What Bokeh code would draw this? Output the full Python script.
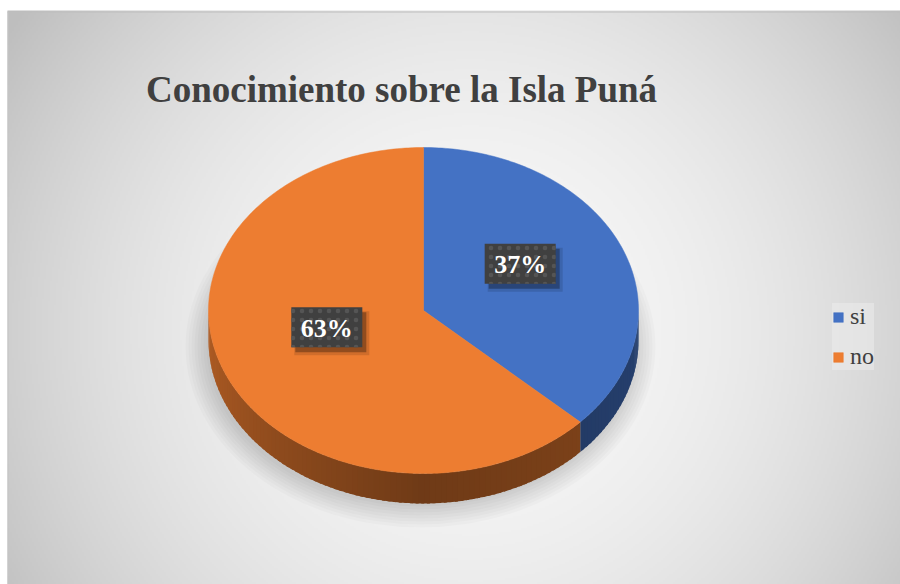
import numpy as np
from bokeh.plotting import figure
from bokeh.models import Range1d, Label, Legend, LegendItem
from bokeh.core.properties import value
from bokeh.embed import file_html
from bokeh.resources import INLINE

# ---- data ----
categories = ["si", "no"]
values = [37, 63]
colors = ["#4472C4", "#ED7D31"]
title_text = "Conocimiento sobre la Isla Puná"

# ---- layout (page pixel helpers) ----
W, H = 900, 584
OX, OY = 0, 0


def X(px):
    return px - OX


def Y(py):
    return (OY + H) - py


p = figure(width=W, height=H, x_range=Range1d(0, W), y_range=Range1d(0, H),
           output_backend="svg", toolbar_location=None,
           x_axis_type=None, y_axis_type=None, min_border=0)
p.grid.visible = False
p.outline_line_color = None
p.background_fill_color = "white"
p.border_fill_color = "white"

# ---- radial gradient background panel ----
top, left = 11, 7
gh = (OY + H) - top
gw = W - left
step = 2
nx, ny = gw // step + 1, gh // step + 1
jj = np.arange(nx)
ii = np.arange(ny)
px = left + (jj + 0.5) * step
py = (OY + H) - (ii + 0.5) * step
PX, PY = np.meshgrid(px, py)
d2 = (PX - 470.0) ** 2 + (PY - 330.0) ** 2
v = np.clip(248 - 1.9e-4 * d2, 190, 250).astype(np.uint8)
img = np.empty((ny, nx), dtype=np.uint32)
view = img.view(dtype=np.uint8).reshape((ny, nx, 4))
view[..., 0] = v
view[..., 1] = v
view[..., 2] = v
view[..., 3] = 255
p.image_rgba(image=[img], x=X(left), y=0, dw=nx * step, dh=ny * step)
p.segment(x0=[X(left), X(left + 0.5)], y0=[Y(top + 0.5), Y(top)],
          x1=[X(W), X(left + 0.5)], y1=[Y(top + 0.5), Y(H)],
          line_color=["#bdbdbd", "#c4c4c4"], line_width=1)

# ---- pie geometry ----
cx, cy = 423.0, 310.0
rx, ry = 215.0, 163.0
depth = 30.0


def pt(theta, dy=0.0):
    t = np.radians(theta)
    return X(cx + rx * np.sin(t)), Y(cy - ry * np.cos(t) + dy)


def hex_to_rgb(h):
    h = h.lstrip("#")
    return [int(h[i:i + 2], 16) for i in (0, 2, 4)]


def shade(h, f):
    r, g, b = hex_to_rgb(h)
    return "#%02x%02x%02x" % (int(r * f), int(g * f), int(b * f))


total = float(sum(values))
fracs = [vv / total for vv in values]
starts = np.concatenate([[0.0], np.cumsum(fracs)[:-1]]) * 360.0
ends = np.cumsum(fracs) * 360.0

# soft shadow under the pie (mostly below / left)
for k in range(8):
    p.ellipse(x=X(cx - 3), y=Y(cy + depth + 6),
              width=2 * rx + 40 - k * 6, height=2 * ry + 36 - k * 6,
              fill_color="black", fill_alpha=0.02, line_color=None)

# side strips (front half only)
sx, sy, sc = [], [], []
for s, e, c in zip(starts, ends, colors):
    a0, a1 = max(s, 90.0), min(e, 270.0)
    if a1 <= a0:
        continue
    n = max(2, int((a1 - a0) / 1.5))
    th = np.linspace(a0, a1, n + 1)
    for t0, t1 in zip(th[:-1], th[1:]):
        t1e = min(t1 + 0.8, a1)
        x0, y0 = pt(t0)
        x1, y1 = pt(t1e)
        x2, y2 = pt(t1e, depth)
        x3, y3 = pt(t0, depth)
        sx.append([x0, x1, x2, x3])
        sy.append([y0, y1, y2, y3])
        tm = 0.5 * (t0 + t1)
        if tm >= 180:
            f = 0.47 + (tm - 180) / 90.0 * 0.28
        else:
            f = 0.47 + (180 - tm) / 90.0 * 0.1
        sc.append(shade(c, f))
p.patches(sx, sy, fill_color=sc, line_color=None)

# top surface slices
top_renderers = []
for s, e, c in zip(starts, ends, colors):
    th = np.linspace(s, e, int((e - s) / 1.0) + 2)
    xs = [X(cx)] + [pt(t)[0] for t in th]
    ys = [Y(cy)] + [pt(t)[1] for t in th]
    r = p.patch(xs, ys, fill_color=c, line_color=c, line_width=0.5)
    top_renderers.append(r)

# ---- data labels ----
for s, e, vv in zip(starts, ends, values):
    mid = 0.5 * (s + e)
    t = np.radians(mid)
    lx = cx + rx * 0.49 * np.sin(t)
    ly = cy - ry * 0.49 * np.cos(t) - 15
    p.rect(x=X(lx + 5), y=Y(ly + 6), width=75, height=44,
           fill_color="black", fill_alpha=0.12, line_color=None)
    p.rect(x=X(lx + 4), y=Y(ly + 5), width=71, height=40,
           fill_color="black", fill_alpha=0.3, line_color=None)
    p.rect(x=X(lx), y=Y(ly), width=71, height=40,
           fill_color="#404040", line_color=None,
           hatch_pattern="dot", hatch_color="#555555", hatch_scale=9, hatch_weight=1.2)
    p.text(x=[X(lx)], y=[Y(ly + 1)], text=["%d%%" % vv],
           text_font=value("Liberation Serif"), text_font_style="bold",
           text_font_size="26px", text_color="white",
           text_align="center", text_baseline="middle")

# ---- title ----
p.add_layout(Label(x=X(401), y=Y(89), text=title_text,
                   text_font="Liberation Serif", text_font_style="bold",
                   text_font_size="37px", text_color="#404040",
                   text_align="center", text_baseline="alphabetic"))

# ---- legend ----
items = [LegendItem(label=cat, renderers=[r]) for cat, r in zip(categories, top_renderers)]
legend = Legend(items=items, location=(X(832), Y(370)), orientation="vertical",
                label_text_font="Liberation Serif", label_text_font_size="24px",
                label_text_color="#404040", glyph_width=12, glyph_height=12,
                label_height=24, spacing=13, padding=12, margin=0, label_standoff=6,
                background_fill_color="#eeeeee", background_fill_alpha=0.5,
                border_line_color=None)
p.add_layout(legend)

open("out.html", "w").write(file_html(p, INLINE))
